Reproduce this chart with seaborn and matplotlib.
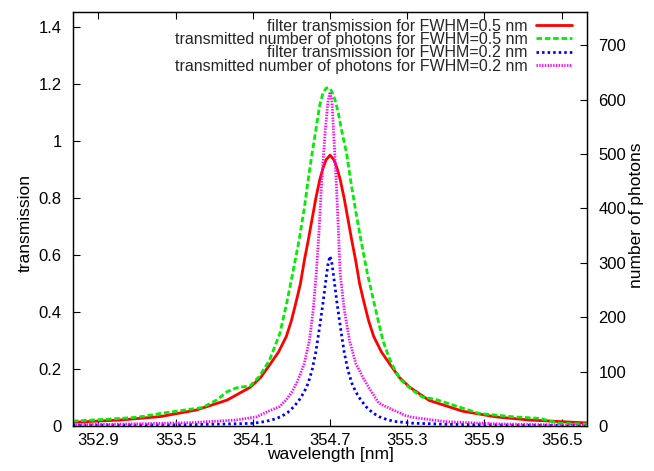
import matplotlib
matplotlib.use("Agg")
import matplotlib.pyplot as plt
from matplotlib.ticker import FixedLocator, FuncFormatter
import seaborn as sns

# Filter transmission, FWHM = 0.5 nm (left axis)
red_wl = [352.70, 353.07, 353.38, 353.66, 353.90, 354.08, 354.16, 354.23, 354.30,
          354.36, 354.40, 354.44, 354.47, 354.50, 354.53, 354.56, 354.59, 354.62,
          354.645, 354.67, 354.70, 354.73, 354.755, 354.78, 354.81, 354.84, 354.87,
          354.90, 354.93, 354.96, 355.00, 355.04, 355.10, 355.17, 355.24, 355.32,
          355.47, 355.73, 355.99, 356.25, 356.64, 356.70]
red_T = [0.013, 0.021, 0.033, 0.056, 0.091, 0.136, 0.17, 0.214, 0.26,
         0.314, 0.37, 0.442, 0.50, 0.58, 0.65, 0.725, 0.80, 0.864,
         0.905, 0.935, 0.951, 0.935, 0.905, 0.864, 0.80, 0.725, 0.65,
         0.58, 0.50, 0.442, 0.37, 0.314, 0.26, 0.214, 0.17, 0.136,
         0.09, 0.052, 0.032, 0.021, 0.012, 0.011]

# Transmitted photons, FWHM = 0.5 nm (right axis)
green_wl = [352.70, 352.94, 353.20, 353.38, 353.53, 353.71, 353.82, 353.90, 353.97,
            354.08, 354.15, 354.23, 354.31, 354.36, 354.41, 354.46, 354.50, 354.53,
            354.56, 354.59, 354.62, 354.645, 354.67, 354.69, 354.71, 354.74, 354.765,
            354.79, 354.83, 354.86, 354.90, 354.94, 354.99, 355.05, 355.11, 355.16,
            355.21, 355.25, 355.34, 355.42, 355.52, 355.65, 355.86, 356.12, 356.33,
            356.48, 356.64, 356.70]
green_N = [9, 12, 16, 23, 28, 34, 48, 63, 70,
           74, 91, 121, 170, 222, 281, 342, 400, 452,
           500, 544, 590, 612, 621, 622, 617, 599, 575,
           544, 500, 452, 395, 342, 281, 219, 158, 125,
           100, 85, 66, 53, 49, 39, 23, 17, 14,
           5, 4, 3.5]

# Filter transmission, FWHM = 0.2 nm (left axis)
blue_wl = [352.70, 353.50, 354.00, 354.10, 354.20, 354.26, 354.32, 354.37, 354.42,
           354.46, 354.50, 354.53, 354.56, 354.59, 354.62, 354.645, 354.67, 354.685,
           354.70, 354.715, 354.73, 354.755, 354.78, 354.81, 354.84, 354.87, 354.90,
           354.94, 354.98, 355.03, 355.08, 355.14, 355.20, 355.34, 355.60, 356.12,
           356.70]
blue_T = [0.003, 0.004, 0.008, 0.0095, 0.016, 0.023, 0.033, 0.047, 0.068,
          0.091, 0.12, 0.15, 0.195, 0.26, 0.35, 0.43, 0.52, 0.57,
          0.597, 0.57, 0.52, 0.43, 0.35, 0.26, 0.195, 0.15, 0.12,
          0.091, 0.068, 0.047, 0.033, 0.023, 0.016, 0.010, 0.006, 0.003,
          0.002]

# Transmitted photons, FWHM = 0.2 nm (right axis)
mag_wl = [352.70, 353.20, 353.60, 353.97, 354.13, 354.21, 354.31, 354.36, 354.41,
          354.45, 354.50, 354.54, 354.57, 354.593, 354.615, 354.636, 354.663, 354.685,
          354.70, 354.715, 354.727, 354.748, 354.765, 354.779, 354.81, 354.851, 354.90,
          354.968, 355.03, 355.08, 355.14, 355.29, 355.34, 355.60, 355.99, 356.70]
mag_N = [2, 4, 6, 11, 17, 26, 36, 48, 65,
         84, 115, 158, 215, 280, 360, 452, 544, 598,
         614, 598, 544, 452, 360, 280, 215, 158, 115,
         84, 60, 42, 35, 19, 16, 8, 4, 1]

labels = ["filter transmission for FWHM=0.5 nm",
          "transmitted number of photons for FWHM=0.5 nm",
          "filter transmission for FWHM=0.2 nm",
          "transmitted number of photons for FWHM=0.2 nm"]

x_ticks = [352.9, 353.5, 354.1, 354.7, 355.3, 355.9, 356.5]
y_ticks = [0, 0.2, 0.4, 0.6, 0.8, 1.0, 1.2, 1.4]
y2_ticks = [0, 100, 200, 300, 400, 500, 600, 700]

sns.set_theme(style="white")
plt.rcParams["font.family"] = ["Liberation Sans", "DejaVu Sans"]
plt.rcParams["axes.edgecolor"] = "black"
plt.rcParams["axes.linewidth"] = 0.9
FS_TICK = 12
FS_LABEL = 12.5
FS_LEG = 11.5

fig = plt.figure(figsize=(6.54, 4.71), dpi=100)
W, H = 654, 471
ax = fig.add_axes([72.7 / W, 1 - 426 / H, (587.3 - 72.7) / W, (426 - 12.3) / H])
ax2 = ax.twinx()

common = dict(estimator=None, sort=False, legend=False, linewidth=2.0)
sns.lineplot(x=red_wl, y=red_T, ax=ax, color="#ff0000", linestyle="-", **common)
sns.lineplot(x=blue_wl, y=blue_T, ax=ax, color="#0000ff",
             linestyle=(0, (0.9, 1.1)), **common)
sns.lineplot(x=green_wl, y=green_N, ax=ax2, color="#00ee00",
             linestyle=(0, (2.0, 1.0)), **common)
sns.lineplot(x=mag_wl, y=mag_N, ax=ax2, color="#ff00ff",
             linestyle=(0, (0.5, 0.5)), **common)

ax.set_xlim(352.7, 356.7)
ax.set_ylim(0, 1.4527)
ax2.set_ylim(0, 760.6)

ax.xaxis.set_major_locator(FixedLocator(x_ticks))
ax.yaxis.set_major_locator(FixedLocator(y_ticks))
ax2.yaxis.set_major_locator(FixedLocator(y2_ticks))
ax.xaxis.set_major_formatter(FuncFormatter(lambda v, p: f"{v:.1f}"))
ax.yaxis.set_major_formatter(FuncFormatter(lambda v, p: f"{v:g}"))
ax2.yaxis.set_major_formatter(FuncFormatter(lambda v, p: f"{v:g}"))

tick_kw = dict(direction="in", length=5, width=0.8, colors="black", labelsize=FS_TICK)
ax.tick_params(axis="x", top=True, bottom=True, pad=5, **tick_kw)
ax.tick_params(axis="y", left=True, right=False, pad=8, **tick_kw)
ax2.tick_params(axis="y", right=True, left=False, pad=8, **tick_kw)

ax.set_xlabel("wavelength [nm]", fontsize=FS_LABEL, color="black")
ax.set_ylabel("transmission", fontsize=FS_LABEL, color="black")
ax2.set_ylabel("number of photons", fontsize=FS_LABEL, color="black")
ax.xaxis.set_label_coords(0.5, -0.050)
ax.yaxis.set_label_coords(-0.078, 0.49)
ax2.yaxis.set_label_coords(1.082, 0.51)

for a in (ax, ax2):
    for s in a.spines.values():
        s.set_visible(True)
        s.set_color("black")

handles = [ax.lines[0], ax2.lines[0], ax.lines[1], ax2.lines[1]]
leg = ax2.legend(handles, labels, loc="upper right", bbox_to_anchor=(0.971, 0.985),
                 frameon=False, markerfirst=False, fontsize=FS_LEG,
                 handlelength=2.3, handletextpad=0.5, labelspacing=-0.1,
                 borderaxespad=0.0, borderpad=0.0)

fig.savefig("out.png", dpi=100)
